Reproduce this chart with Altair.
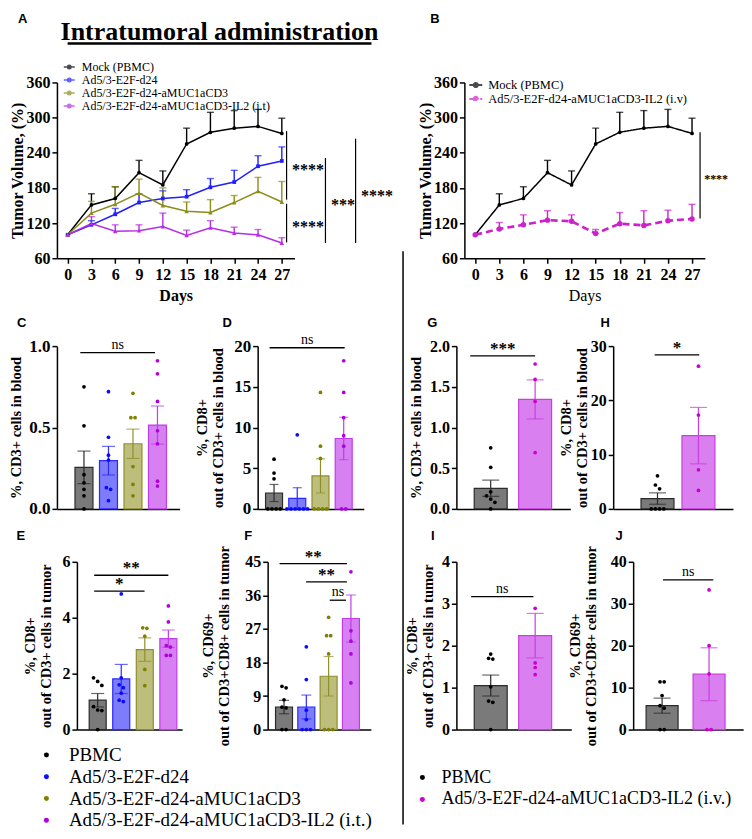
import altair as alt
import pandas as pd
import numpy as np

SERIF = "Liberation Serif"
SANS = "Liberation Sans"
K = 0.975  # horizontal compression so the figure fits the window

# ---------------- A & B : tumour growth ----------------
days = [0, 3, 6, 9, 12, 15, 18, 21, 24, 27]
mock_mean = [100, 151, 162, 206, 185, 255, 275, 282, 285, 273]
mock_sem = [0, 19, 20, 21, 24, 27, 34, 30, 29, 26]
ad5_mean = [100, 117, 135, 155, 162, 165, 181, 190, 217, 226]
ad5_sem = [0, 7, 10, 15, 13, 12, 15, 20, 18, 24]
amuc_mean = [100, 137, 152, 171, 150, 140, 138, 155, 174, 156]
amuc_sem = [0, 20, 30, 24, 30, 16, 22, 12, 24, 35]
il2it_mean = [100, 119, 106, 107, 114, 99, 112, 103, 100, 86]
il2it_sem = [0, 12, 11, 10, 23, 9, 12, 10, 9, 9]
il2iv_mean = [100, 110, 117, 125, 123, 102, 119, 116, 124, 127]
il2iv_sem = [0, 11, 17, 16, 11, 7, 19, 25, 18, 25]

a_names = ["Mock (PBMC)", "Ad5/3-E2F-d24", "Ad5/3-E2F-d24-aMUC1aCD3",
           "Ad5/3-E2F-d24-aMUC1aCD3-IL2 (i.t)"]
b_names = ["Mock (PBMC)", "Ad5/3-E2F-d24-aMUC1aCD3-IL2 (i.v)"]
a_colors = ["#000000", "#1f1fff", "#8c8c1a", "#b52ee6"]
b_colors = ["#000000", "#cc22cc"]
a_shapes = ["circle", "square", "triangle-up", "triangle-up"]
a_psize = [14, 14, 20, 20]
a_lwidth = [1.5, 1.5, 1.5, 1.5]
b_shapes = ["circle", "circle"]
b_psize = [14, 30]
b_lwidth = [1.5, 2.6]
b_dash = [[1, 0], [7, 4]]

# significance brackets (A, B)
a_br_x = [27.6, 27.6, 32.5, 36.3]
a_br_top = [277, 153, 231, 264]
a_br_bot = [160, 87, 86, 86]
a_br_text = ["****", "****", "***", "****"]
a_br_tx = [30.3, 30.3, 34.7, 39.0]
a_br_ty = [216, 118, 156, 171]
b_br_x = [28.0]
b_br_top = [275]
b_br_bot = [128]
b_br_text = ["****"]
b_br_tx = [30.0]
b_br_ty = [201]

# ---------------- bar panels ----------------
grp4 = ["PBMC", "Ad5/3-E2F-d24", "Ad5/3-E2F-d24-aMUC1aCD3", "Ad5/3-E2F-d24-aMUC1aCD3-IL2 (i.t.)"]
grp2 = ["PBMC", "Ad5/3-E2F-d24-aMUC1aCD3-IL2 (i.v.)"]

c_dots = [[0.75, 0.51, 0.21, 0.16, 0.12, 0.08, 0.0],
          [0.72, 0.44, 0.33, 0.30, 0.13, 0.12, 0.05],
          [0.71, 0.56, 0.56, 0.26, 0.15, 0.08],
          [0.91, 0.83, 0.66, 0.48, 0.40, 0.17, 0.14]]
c_mean = [0.255, 0.296, 0.40, 0.515]
c_sem = [0.10, 0.088, 0.09, 0.117]

d_dots = [[6.1, 4.4, 3.7, 0, 0, 0, 0],
          [9.1, 0, 0, 0, 0, 0, 0],
          [14.3, 7.7, 6.2, 0, 0, 0, 0],
          [18.2, 14.3, 11.2, 9.0, 7.7, 0, 0]]
d_mean = [1.95, 1.3, 4.05, 8.65]
d_sem = [1.05, 1.3, 2.1, 2.6]

e_dots = [[1.85, 1.72, 1.58, 0.82, 0.70, 0.68, 0.0],
          [4.85, 1.85, 1.6, 1.5, 1.3, 1.05, 1.0],
          [3.64, 3.62, 3.34, 2.15, 1.57],
          [4.42, 3.85, 3.0, 2.95, 2.65, 2.65]]
e_mean = [1.05, 1.81, 2.86, 3.25]
e_sem = [0.24, 0.52, 0.42, 0.31]

f_dots = [[11.6, 11.2, 8.0, 6.0, 5.8, 0, 0],
          [22.2, 13.4, 5.2, 2.7, 0, 0, 0],
          [30.1, 25.2, 25.2, 20.3, 0, 0, 0],
          [42.3, 26.5, 23.7, 20.3, 12.5]]
f_mean = [6.05, 6.05, 14.3, 29.8]
f_sem = [1.8, 3.2, 5.3, 6.3]

g_dots = [[0.75, 0.51, 0.21, 0.16, 0.12, 0.08, 0.0], [1.78, 1.59, 1.32, 0.69]]
g_mean = [0.253, 1.345]
g_sem = [0.10, 0.24]

h_dots = [[6.1, 4.4, 3.7, 0, 0, 0, 0], [26.3, 17.3, 7.2, 3.4]]
h_mean = [1.9, 13.5]
h_sem = [1.05, 5.2]

i_dots = [[1.8, 1.7, 1.68, 1.02, 0.68, 0.65, 0.0], [2.89, 1.59, 1.48, 1.31]]
i_mean = [1.05, 2.24]
i_sem = [0.25, 0.53]

j_dots = [[11.4, 11.4, 8.1, 5.7, 5.1, 0, 0], [33.3, 20.0, 13.3, 0, 0]]
j_mean = [5.7, 13.2]
j_sem = [1.8, 6.3]

# brackets: x1, x2 (group index units), y, label
c_br = ([-0.15], [2.9], [0.96], ["ns"])
d_br = ([-0.19], [3.04], [19.8], ["ns"])
e_br = ([-0.15, -0.15], [3.0, 1.99], [5.52, 4.95], ["**", "*"])
f_br = ([-0.2, 0.99, 2.05], [2.82, 2.82, 2.78], [44.5, 39.6, 34.7], ["**", "**", "ns"])
g_br = ([-0.46], [1.0], [1.88], ["***"])
h_br = ([-0.07], [1.02], [28.4], ["*"])
i_br = ([-0.44], [0.96], [3.17], ["ns"])
j_br = ([0.02], [1.09], [35.7], ["ns"])

fill4 = ["#7a7a7a", "#7d7dfb", "#bdbd7c", "#d680f2"]
edge4 = ["#2b2b2b", "#2a2aff", "#8f8f2a", "#c03de8"]
pt4 = ["#000000", "#0a0aff", "#808000", "#b000e0"]
fill2 = ["#7a7a7a", "#d97ff0"]
edge2 = ["#2b2b2b", "#cc3ddf"]
pt2 = ["#000000", "#cc00cc"]

SYM = "M-1,0L1,0M-0.32,0A0.32,0.32,0,1,1,0.32,0A0.32,0.32,0,1,1,-0.32,0Z"


def one(t):
    return pd.DataFrame({"t": [t]})


def letter_mark(letter, dx, dy):
    return alt.Chart(one(letter)).mark_text(
        font=SANS, fontSize=13, fontWeight="bold", align="left", baseline="middle", color="black"
    ).encode(text="t:N", x=alt.value(dx * K), y=alt.value(dy))


def growth_panel(names, means, sems, colors, shapes, psizes, lwidths, dashes, w, h,
                 legend, days_bold, br, br_font, letter, lpos, extra=None):
    w = w * K
    rows = []
    for n, mm, ss in zip(names, means, sems):
        for d, m, s in zip(days, mm, ss):
            rows.append(dict(series=n, day=d, mean=m, upper=m + s, sem=s))
    df = pd.DataFrame(rows)
    xs = alt.Scale(domain=[-1.35, 28.6], nice=False, zero=False, range=[0, w])
    ys = alt.Scale(domain=[60, 360], nice=False, zero=False)
    xax = alt.Axis(values=days, title="Days", labelFontSize=16, titleFontSize=16,
                   titleFontWeight="bold" if days_bold else "normal",
                   labelPadding=3, titlePadding=5, labelFlush=False, labelOverlap=False)
    yax = alt.Axis(values=[60, 120, 180, 240, 300, 360], title="Tumor Volume, (%)",
                   labelFontSize=16, titleFontSize=16, labelPadding=2, titlePadding=0)
    cs = alt.Scale(domain=names, range=colors)
    col = alt.Color("series:N", scale=cs, legend=legend, sort=names)
    X = lambda f: alt.X(f, scale=xs, axis=xax)
    Y = lambda f: alt.Y(f, scale=ys, axis=yax)
    base = alt.Chart(df)
    err = base.transform_filter("datum.sem > 0")
    layers = [
        err.mark_rule(strokeWidth=1.4).encode(x=X("day:Q"), y=Y("mean:Q"), y2="upper:Q", color=col),
        err.mark_tick(orient="horizontal", size=7, thickness=1.4).encode(x=X("day:Q"), y=Y("upper:Q"), color=col),
    ]
    for n, lw in zip(names, lwidths):
        enc = dict(x=X("day:Q"), y=Y("mean:Q"), color=col)
        if dashes is not None:
            enc["strokeDash"] = alt.StrokeDash("series:N", scale=alt.Scale(domain=names, range=dashes),
                                               legend=legend)
        layers.append(base.transform_filter(alt.datum.series == n).mark_line(strokeWidth=lw).encode(**enc))
    for n, shp, ps in zip(names, shapes, psizes):
        layers.append(base.transform_filter(alt.datum.series == n).mark_point(
            filled=True, opacity=1, shape=shp, size=ps).encode(x=X("day:Q"), y=Y("mean:Q"), color=col))
    brx, brtop, brbot, brtext, brtx, brty = br
    bdf = pd.DataFrame(dict(x=brx, top=brtop, bot=brbot))
    tdf = pd.DataFrame(dict(x=brtx, y=brty, txt=brtext))
    layers.append(alt.Chart(bdf).mark_rule(color="black", strokeWidth=1.2).encode(
        x=X("x:Q"), y=Y("top:Q"), y2="bot:Q"))
    layers.append(alt.Chart(tdf).mark_text(font=SERIF, fontSize=br_font, fontWeight="bold",
                                           baseline="middle", dy=3, color="black").encode(
        x=X("x:Q"), y=Y("y:Q"), text="txt:N"))
    layers.append(letter_mark(letter, lpos[0], lpos[1]))
    if extra:
        layers.extend(extra)
    return alt.layer(*layers).properties(width=1, height=h)


def jitter_offsets(values, tol, step):
    v = np.asarray(values, dtype=float)
    order = list(np.argsort(-v, kind="stable"))
    offs = np.zeros(len(v))
    clusters = [[order[0]]]
    for i in order[1:]:
        if abs(v[i] - v[clusters[-1][-1]]) <= tol:
            clusters[-1].append(i)
        else:
            clusters.append([i])
    for c in clusters:
        n = len(c)
        for j, i in enumerate(c):
            offs[i] = (j - (n - 1) / 2.0) * step
    return offs


def bar_panel(groups, dots, means, sems, fills, edges, pcols, w, h, xdom, ydom, yvals, yfmt,
              ytitle, bar_size, cap_size, br, letter, lpos, tpad, legend=None, lsize=16, dot_size=14):
    w = w * K
    px_per_x = w / (xdom[1] - xdom[0])
    tol = 4.0 * (ydom[1] - ydom[0]) / h
    step = 4.6 / px_per_x
    rows = []
    for gi, (g, vals) in enumerate(zip(groups, dots)):
        offs = jitter_offsets(vals, tol, step)
        for v, o in zip(vals, offs):
            rows.append(dict(group=g, xj=gi + o, value=v))
    dots_df = pd.DataFrame(rows)
    bars_df = pd.DataFrame(dict(group=groups, idx=list(range(len(groups))), mean=means,
                                lo=[max(m - s, 0) for m, s in zip(means, sems)],
                                hi=[m + s for m, s in zip(means, sems)]))
    x1, x2, yy, tt = br
    br_df = pd.DataFrame(dict(x1=x1, x2=x2, y=yy, txt=tt))
    xs = alt.Scale(domain=xdom, nice=False, zero=False, range=[0, w])
    ys = alt.Scale(domain=ydom, nice=False, zero=False)
    xax = alt.Axis(labels=False, ticks=False, title=None)
    yax = alt.Axis(values=yvals, format=yfmt, title=ytitle, labelFontSize=lsize, titleFontSize=14.5,
                   titlePadding=tpad, labelPadding=2, titleLineHeight=16)
    X = lambda f: alt.X(f, scale=xs, axis=xax)
    Y = lambda f: alt.Y(f, scale=ys, axis=yax)
    edge_col = alt.Color("group:N", scale=alt.Scale(domain=groups, range=edges), legend=None)
    bars = alt.Chart(bars_df).mark_bar(size=bar_size, strokeWidth=1.2).encode(
        x=X("idx:Q"), y=Y("mean:Q"),
        color=alt.Color("group:N", scale=alt.Scale(domain=groups, range=fills), legend=None),
        stroke=alt.Stroke("group:N", scale=alt.Scale(domain=groups, range=edges), legend=None))
    errs = alt.Chart(bars_df).mark_rule(strokeWidth=1.2).encode(
        x=X("idx:Q"), y=Y("lo:Q"), y2="hi:Q", color=edge_col)
    cap_hi = alt.Chart(bars_df).mark_tick(orient="horizontal", size=cap_size, thickness=1.2).encode(
        x=X("idx:Q"), y=Y("hi:Q"), color=edge_col)
    cap_lo = alt.Chart(bars_df).mark_tick(orient="horizontal", size=cap_size, thickness=1.2).encode(
        x=X("idx:Q"), y=Y("lo:Q"), color=edge_col)
    pts = alt.Chart(dots_df).mark_circle(size=dot_size, opacity=1).encode(
        x=X("xj:Q"), y=Y("value:Q"),
        color=alt.Color("group:N", scale=alt.Scale(domain=groups, range=pcols), legend=legend))
    brb = alt.Chart(br_df)
    br_rule = brb.mark_rule(color="black", strokeWidth=1.3).encode(x=X("x1:Q"), x2="x2:Q", y=Y("y:Q"))
    br_ns = brb.transform_filter("datum.txt == 'ns'").transform_calculate(
        xm="(datum.x1 + datum.x2) / 2").mark_text(
        font=SERIF, fontSize=14, baseline="alphabetic", dy=-4, color="black").encode(
        x=X("xm:Q"), y=Y("y:Q"), text="txt:N")
    br_st = brb.transform_filter("datum.txt != 'ns'").transform_calculate(
        xm="(datum.x1 + datum.x2) / 2").mark_text(
        font=SERIF, fontSize=17, fontWeight="bold", baseline="alphabetic", dy=-2, color="black").encode(
        x=X("xm:Q"), y=Y("y:Q"), text="txt:N")
    lab = letter_mark(letter, lpos[0], lpos[1])
    return alt.layer(bars, errs, cap_hi, cap_lo, pts, br_rule, br_ns, br_st, lab).resolve_scale(
        color="independent").properties(width=1, height=h)


def spacer(w, h):
    return alt.Chart(one("")).mark_point(opacity=0).encode(
        x=alt.value(0), y=alt.value(0)).properties(width=w, height=h)


# ---------------- build panels ----------------
legA = alt.Legend(orient="none", legendX=6 * K, legendY=-22, title=None, labelFont=SERIF,
                  labelFontSize=12, labelLimit=500, symbolType=SYM, symbolSize=121,
                  symbolStrokeWidth=1.5, rowPadding=-1, labelOffset=6, padding=0)
legB = alt.Legend(orient="none", legendX=4 * K, legendY=-5, title=None, labelFont=SERIF,
                  labelFontSize=12.5, labelLimit=500, symbolType=SYM, symbolSize=169,
                  symbolStrokeWidth=2, rowPadding=0, labelOffset=5, padding=0)

title_txt = alt.Chart(one("Intratumoral administration")).mark_text(
    font=SERIF, fontSize=26, fontWeight="bold", align="center", baseline="middle", color="black"
).encode(text="t:N", x=alt.value((216 - 49) * K), y=alt.value(-51))
title_line = alt.Chart(one("")).mark_rule(color="black", strokeWidth=2.5).encode(
    x=alt.value((60 - 49) * K), x2=alt.value((372 - 49) * K), y=alt.value(-39))

A = growth_panel(a_names, [mock_mean, ad5_mean, amuc_mean, il2it_mean],
                 [mock_sem, ad5_sem, amuc_sem, il2it_sem], a_colors, a_shapes, a_psize, a_lwidth,
                 None, 244, 176, legA, True,
                 (a_br_x, a_br_top, a_br_bot, a_br_text, a_br_tx, a_br_ty), 16, "A", (-40, -64),
                 extra=[title_txt, title_line])

divider = alt.Chart(one("")).mark_rule(color="black", strokeWidth=1.5).encode(
    x=alt.value(-63 * K), y=alt.value(169), y2=alt.value(743))

B = growth_panel(b_names, [mock_mean, il2iv_mean], [mock_sem, il2iv_sem], b_colors, b_shapes, b_psize,
                 b_lwidth, b_dash, 247, 176, legB, False,
                 (b_br_x, b_br_top, b_br_bot, b_br_text, b_br_tx, b_br_ty), 12, "B", (-35, -64),
                 extra=[divider])

legE = alt.Legend(orient="none", legendX=-40, legendY=184, title=None, labelFont=SERIF,
                  labelFontSize=19, labelLimit=600, symbolType="circle", symbolSize=25,
                  rowPadding=1.8, labelOffset=13, padding=0, symbolStrokeWidth=0)
legI = alt.Legend(orient="none", legendX=-43, legendY=207, title=None, labelFont=SERIF,
                  labelFontSize=18, labelLimit=600, symbolType="circle", symbolSize=25,
                  rowPadding=4, labelOffset=10, padding=0, symbolStrokeWidth=0)

C = bar_panel(grp4, c_dots, c_mean, c_sem, fill4, edge4, pt4, 126, 163, [-0.9, 3.7], [0, 1],
              [0, 0.5, 1.0], ".1f", "%, CD3+ cells in blood", 18, 13, c_br, "C", (-41, -23), 5, lsize=17)
D = bar_panel(grp4, d_dots, d_mean, d_sem, fill4, edge4, pt4, 109, 163, [-0.49, 3.65], [0, 20],
              [0, 5, 10, 15, 20], "d", ["%, CD8+", "out of CD3+ cells in blood"], 17, 9, d_br,
              "D", (-36, -23), 8, lsize=17)
G = bar_panel(grp2, g_dots, g_mean, g_sem, fill2, edge2, pt2, 117, 163, [-0.66, 1.68], [0, 2],
              [0, 0.5, 1.0, 1.5, 2.0], ".1f", "%, CD3+ cells in blood", 33, 17, g_br, "G", (-30, -23), 6)
H = bar_panel(grp2, h_dots, h_mean, h_sem, fill2, edge2, pt2, 123, 163, [-0.96, 1.72], [0, 30],
              [0, 10, 20, 30], "d", ["%, CD8+", "out of CD3+ cells in blood"], 33, 17, h_br,
              "H", (-13, -23), 1)
E = bar_panel(grp4, e_dots, e_mean, e_sem, fill4, edge4, pt4, 108, 168, [-0.67, 3.37], [0, 6],
              [0, 2, 4, 6], "d", ["%, CD8+", "out of CD3+ cells in tumor"], 17, 13, e_br,
              "E", (-62, -26), 8, legend=legE)
F = bar_panel(grp4, f_dots, f_mean, f_sem, fill4, edge4, pt4, 106, 168, [-0.51, 3.67], [0, 45],
              [0, 9, 18, 27, 36, 45], "d", ["%, CD69+", "out of CD3+CD8+ cells in tumor"], 17, 10, f_br,
              "F", (-24, -26), 13)
I = bar_panel(grp2, i_dots, i_mean, i_sem, fill2, edge2, pt2, 118, 168, [-0.66, 1.7], [0, 4],
              [0, 1, 2, 3, 4], "d", ["%, CD8+", "out of CD3+ cells in tumor"], 33, 17, i_br,
              "I", (-26, -26), 6, legend=legI)
J = bar_panel(grp2, j_dots, j_mean, j_sem, fill2, edge2, pt2, 113, 168, [-0.51, 1.62], [0, 40],
              [0, 10, 20, 30, 40], "d", ["%, CD69+", "out of CD3+CD8+ cells in tumor"], 32, 17, j_br,
              "J", (-18, -26), 12)

# grid columns start at x = 49, 69, 254, 264, 457, 465, 617, 637 (reference pixels)
col_w = [20, 185, 10, 193, 8, 152, 20, 113]
S = lambda: spacer(1, 1)

cells = (
    [A, S(), S(), S(), S(), B, S(), S()]
    + [spacer(col_w[0] * K, 88)] + [spacer(cw * K, 1) for cw in col_w[1:]]
    + [C, S(), D, S(), G, S(), H, S()]
    + [spacer(1, 53)] + [S() for _ in range(7)]
    + [S(), E, S(), F, I, S(), S(), J]
)

chart = alt.concat(
    *cells, columns=8, spacing=0, bounds="flush", align="each",
).resolve_scale(
    color="independent", stroke="independent", shape="independent", size="independent",
    strokeDash="independent",
).resolve_legend(
    color="independent", stroke="independent", shape="independent", size="independent",
    strokeDash="independent",
).properties(padding={"top": 4, "left": 0, "right": 0, "bottom": 0}).configure_view(
    stroke=None
).configure_axis(
    grid=False, domainColor="black", domainWidth=1.5, tickColor="black", tickWidth=1.5, tickSize=5,
    labelColor="black", titleColor="black", labelFont=SERIF, titleFont=SERIF,
    labelFontWeight="bold", titleFontWeight="bold",
).configure_legend(labelColor="black")

chart.save("out.html", embed_options={"renderer": "svg", "actions": False})
